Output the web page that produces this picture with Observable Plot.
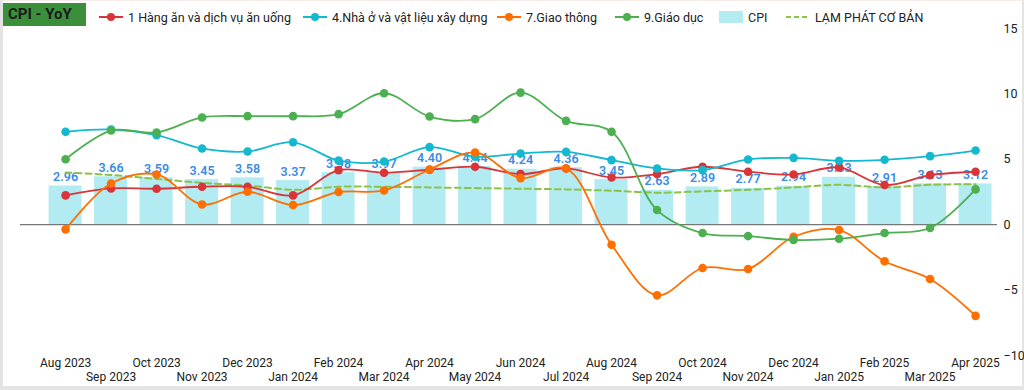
<!DOCTYPE html>
<html>
<head>
<meta charset="utf-8">
<script src="https://cdn.jsdelivr.net/npm/d3@7"></script>
<script src="https://cdn.jsdelivr.net/npm/@observablehq/plot@0.6"></script>
<style>
  html, body { margin: 0; padding: 0; background: #fff; }
  body { width: 1024px; height: 390px; position: relative; overflow: hidden; font-family: Roboto, "Noto Sans", sans-serif; }
  #card { position: absolute; left: 0; top: 0; width: 1024px; height: 390px; box-sizing: border-box;
          border-left: 3px solid #e4e4e4; border-bottom: 4px solid #e4e4e4; border-right: 2px solid #e4e4e4; border-top: 1px solid #f8ece8; }
  #chart { position: absolute; left: 0; top: 0; }
  #title { position: absolute; left: 3px; top: 3px; width: 83px; height: 23px; background: #3b8f3b; color: #1b1b1b;
           font-weight: bold; font-size: 15px; line-height: 23px; padding-left: 5px; box-sizing: border-box; }
  .li { position: absolute; top: 9px; height: 16px; display: flex; align-items: center; font-size: 12.5px; color: #222; white-space: nowrap; }
  .li svg { margin-right: 5px; }
</style>
</head>
<body>
<div id="card"></div>
<div id="chart"></div>
<div id="title">CPI - YoY</div>
<div id="legend"></div>
<script>
const months = ["Aug 2023","Sep 2023","Oct 2023","Nov 2023","Dec 2023","Jan 2024","Feb 2024","Mar 2024","Apr 2024","May 2024","Jun 2024","Jul 2024","Aug 2024","Sep 2024","Oct 2024","Nov 2024","Dec 2024","Jan 2025","Feb 2025","Mar 2025","Apr 2025"];
const cpi = [2.96,3.66,3.59,3.45,3.58,3.37,3.98,3.97,4.40,4.44,4.24,4.36,3.45,2.63,2.89,2.77,2.94,3.63,2.91,3.13,3.12];
const core = [3.99,3.80,3.50,3.20,3.00,2.67,2.90,2.90,2.85,2.80,2.75,2.70,2.60,2.45,2.55,2.67,2.85,3.05,2.85,3.05,3.10];
const food = [2.24,2.77,2.75,2.90,2.90,2.24,4.17,3.97,4.20,4.43,3.87,4.30,3.61,3.87,4.43,4.05,3.84,4.38,3.03,3.79,4.05];
const housing = [7.10,7.28,6.85,5.83,5.60,6.30,4.90,4.83,5.93,5.19,5.44,5.57,4.94,4.30,4.17,4.99,5.11,4.89,4.96,5.24,5.67];
const transport = [-0.36,3.15,3.84,1.55,2.52,1.50,2.50,2.62,4.22,5.52,3.56,4.30,-1.53,-5.40,-3.31,-3.39,-0.92,-0.41,-2.80,-4.15,-6.97];
const education = [5.00,7.20,7.05,8.20,8.30,8.30,8.45,10.05,8.27,8.07,10.10,7.94,7.10,1.12,-0.64,-0.87,-1.17,-1.07,-0.64,-0.25,2.70];
const yTicks = [-10,-5,0,5,10,15];

const seriesNames = ["1 Hàng ăn và dịch vụ ăn uống","4.Nhà ở và vật liệu xây dựng","7.Giao thông","9.Giáo dục"];
const seriesValues = [food, housing, transport, education];
const seriesColors = ["#d9343a","#14b8cf","#ff6f00","#4caf50"];
const barColor = "#b2ebf2";
const coreColor = "#8bc34a";
const labelColor = "#3a8ce6";

const rows = (vals) => months.map((m, i) => ({month: m, value: vals[i]}));
const curve = "catmull-rom";

const marks = [
  Plot.barY(rows(cpi), {x: "month", y: "value", fill: barColor}),
  Plot.ruleY([0], {stroke: "#777", strokeWidth: 1.3}),
  Plot.text(rows(cpi), {x: "month", y: "value", text: d => d.value.toFixed(2), dy: -9, fill: labelColor, fontSize: 12.5, fontWeight: 600}),
  Plot.line(rows(core), {x: "month", y: "value", stroke: coreColor, strokeWidth: 2, strokeDasharray: "6,4", curve})
];
seriesValues.forEach((vals, k) => {
  marks.push(Plot.line(rows(vals), {x: "month", y: "value", stroke: seriesColors[k], strokeWidth: 1.8, curve}));
  marks.push(Plot.dot(rows(vals), {x: "month", y: "value", fill: seriesColors[k], r: 4.3}));
});
marks.push(Plot.axisY(yTicks, {anchor: "right", tickSize: 0, tickPadding: 6, fontSize: 12.5, fill: "#222", label: null}));
marks.push(Plot.axisX(months.filter((m, i) => i % 2 === 0), {tickSize: 0, tickPadding: 3, fontSize: 12, fill: "#222", label: null}));
marks.push(Plot.axisX(months.filter((m, i) => i % 2 === 1), {tickSize: 0, tickPadding: 17, fontSize: 12, fill: "#222", label: null}));

const chart = Plot.plot({
  width: 1024,
  height: 390,
  marginLeft: 20,
  marginRight: 27,
  marginTop: 28,
  marginBottom: 35,
  style: {fontFamily: "Roboto, sans-serif", background: "transparent", overflow: "visible"},
  x: {type: "band", domain: months, paddingInner: 0.275, paddingOuter: 0.374, align: 0.84, round: false, axis: null, label: null},
  y: {domain: [-10, 15], axis: null, label: null},
  marks
});
document.getElementById("chart").appendChild(chart);

// Legend
const legend = document.getElementById("legend");
const legendX = [99, 303, 497, 615, 719, 786];
function addItem(left, svgHtml, label) {
  const d = document.createElement("div");
  d.className = "li";
  d.style.left = left + "px";
  d.innerHTML = svgHtml + "<span>" + label + "</span>";
  legend.appendChild(d);
}
seriesNames.forEach((name, k) => {
  const c = seriesColors[k];
  addItem(legendX[k], `<svg width="24" height="12"><line x1="0" y1="6" x2="24" y2="6" stroke="${c}" stroke-width="2"/><circle cx="12" cy="6" r="4" fill="${c}"/></svg>`, name);
});
addItem(legendX[4], `<svg width="24" height="12"><rect x="0" y="0" width="24" height="12" fill="${barColor}"/></svg>`, "CPI");
addItem(legendX[5], `<svg width="24" height="12"><line x1="0" y1="6" x2="24" y2="6" stroke="${coreColor}" stroke-width="2" stroke-dasharray="5,3"/></svg>`, "LẠM PHÁT CƠ BẢN");
</script>
</body>
</html>
